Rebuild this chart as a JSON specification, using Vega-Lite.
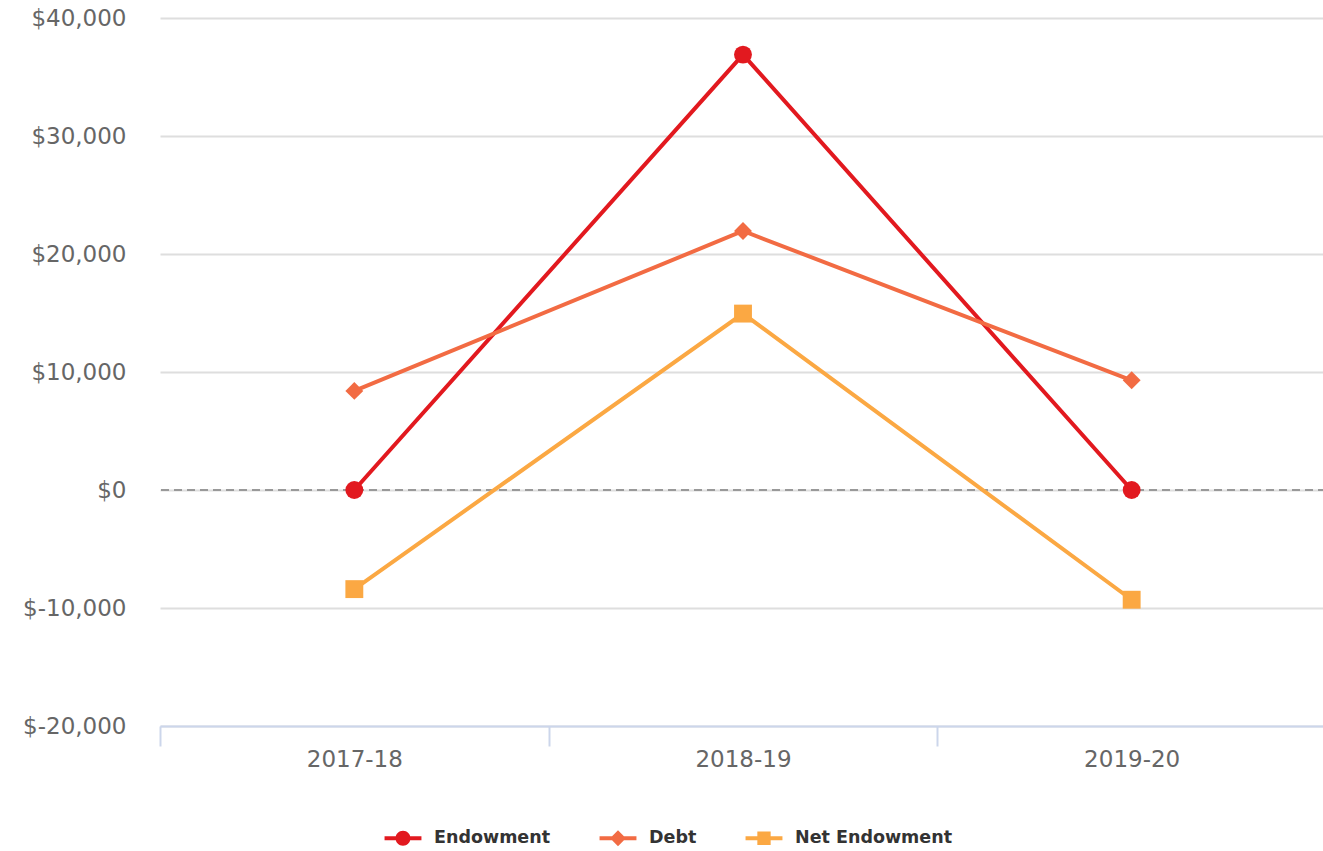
{
  "$schema": "https://vega.github.io/schema/vega-lite/v6.json",
  "autosize": "none",
  "width": 1166,
  "height": 708,
  "padding": {"left": 160, "top": 18, "right": 0, "bottom": 125},
  "background": "white",
  "config": {
    "view": {"stroke": null},
    "font": "DejaVu Sans"
  },
  "data": {
    "values": [
      {"year": "2017-18", "series": "Endowment", "value": 0},
      {"year": "2018-19", "series": "Endowment", "value": 36900},
      {"year": "2019-20", "series": "Endowment", "value": 0},
      {"year": "2017-18", "series": "Debt", "value": 8400},
      {"year": "2018-19", "series": "Debt", "value": 21950},
      {"year": "2019-20", "series": "Debt", "value": 9300},
      {"year": "2017-18", "series": "Net Endowment", "value": -8400},
      {"year": "2018-19", "series": "Net Endowment", "value": 14950},
      {"year": "2019-20", "series": "Net Endowment", "value": -9300}
    ]
  },
  "encoding": {
    "x": {
      "field": "year",
      "type": "nominal",
      "sort": ["2017-18", "2018-19", "2019-20"],
      "scale": {"paddingInner": 0, "paddingOuter": 0},
      "axis": {
        "title": null,
        "labelAngle": 0,
        "labelFont": "DejaVu Sans",
        "labelFontSize": 23,
        "labelColor": "#666666",
        "labelPadding": 2,
        "domainColor": "#ccd6eb",
        "domainWidth": 2,
        "tickColor": "#ccd6eb",
        "tickWidth": 2,
        "tickSize": 20,
        "tickBand": "extent",
        "grid": false
      }
    },
    "y": {
      "field": "value",
      "type": "quantitative",
      "scale": {"domain": [-20000, 40000], "nice": false, "zero": false},
      "axis": {
        "title": null,
        "values": [-20000, -10000, 0, 10000, 20000, 30000, 40000],
        "labelExpr": "'$' + replace(format(datum.value, ','), '\u2212', '-')",
        "labelFont": "DejaVu Sans",
        "labelFontSize": 23,
        "labelColor": "#666666",
        "labelPadding": 34,
        "domain": false,
        "ticks": false,
        "grid": true,
        "gridColor": "#dedede",
        "gridWidth": 2
      }
    }
  },
  "layer": [
    {
      "mark": {"type": "rule", "strokeDash": [8, 5], "color": "#999999", "strokeWidth": 2},
      "encoding": {"y": {"datum": 0}, "x": null}
    },
    {
      "mark": {"type": "line", "strokeWidth": 4},
      "encoding": {
        "color": {
          "field": "series",
          "type": "nominal",
          "scale": {"domain": ["Endowment", "Debt", "Net Endowment"], "range": ["#e2191f", "#f26b43", "#fba843"]}
        }
      }
    },
    {
      "mark": {"type": "point", "filled": true, "opacity": 1, "size": 320},
      "encoding": {
        "color": {"field": "series", "type": "nominal"},
        "shape": {
          "condition": [
            {"test": "datum.series === 'Endowment'", "value": "circle"},
            {"test": "datum.series === 'Debt'", "value": "diamond"}
          ],
          "value": "square"
        }
      }
    },
    {
      "mark": {"type": "point", "filled": true, "opacity": 0, "size": 324},
      "encoding": {
        "color": {"field": "series", "type": "nominal"},
        "shape": {
          "field": "series",
          "type": "nominal",
          "scale": {
            "domain": ["Endowment", "Debt", "Net Endowment"],
            "range": [
              "M -2.05 -0.22 L 2.05 -0.22 L 2.05 0.22 L -2.05 0.22 Z M -0.83 0 A 0.83 0.83 0 1 1 0.83 0 A 0.83 0.83 0 1 1 -0.83 0 Z",
              "M -2.05 -0.22 L 2.05 -0.22 L 2.05 0.22 L -2.05 0.22 Z M 0 -0.88 L 0.88 0 L 0 0.88 L -0.88 0 Z",
              "M -2.05 -0.22 L 2.05 -0.22 L 2.05 0.22 L -2.05 0.22 Z M -0.74 -0.74 L 0.74 -0.74 L 0.74 0.74 L -0.74 0.74 Z"
            ]
          },
          "legend": {
            "title": null,
            "orient": "none",
            "direction": "horizontal",
            "legendX": 234,
            "legendY": 811,
            "symbolSize": 324,
            "symbolOpacity": 1,
            "symbolStrokeWidth": 0,
            "labelFont": "DejaVu Sans",
            "labelFontSize": 17.5,
            "labelFontWeight": "bold",
            "labelColor": "#333333",
            "labelOffset": 22,
            "columnPadding": 48
          }
        }
      }
    }
  ]
}
